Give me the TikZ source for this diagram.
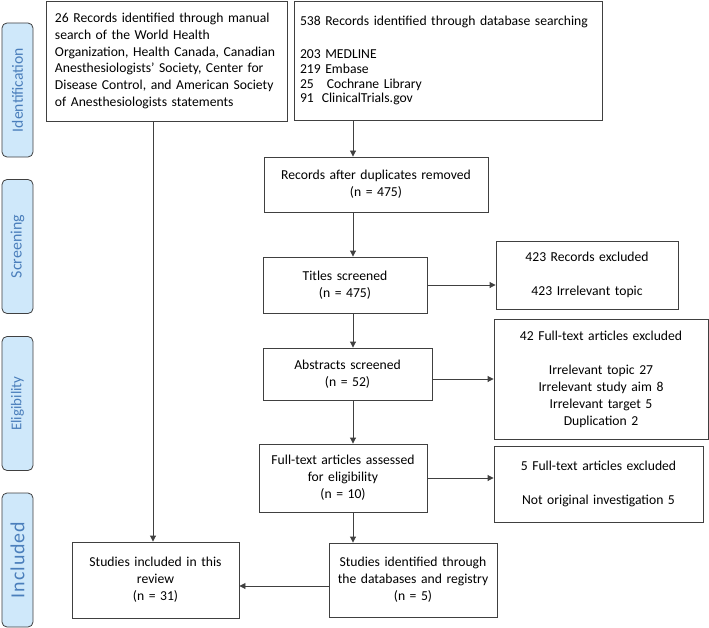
\documentclass[tikz,border=0pt]{standalone}
\usepackage{fontspec}
\setmainfont{Carlito}
\usetikzlibrary{arrows.meta}
\definecolor{stagefill}{HTML}{CFE8FA}
\definecolor{stagetext}{HTML}{4A7EBB}
\definecolor{boxline}{HTML}{404040}
\begin{document}
\begin{tikzpicture}[x=1bp,y=-1bp,
  box/.style={draw=boxline, line width=0.9bp, fill=white, inner sep=4bp, align=center,
    font=\fontsize{13.7}{17}\selectfont},
  stage/.style={draw=boxline, line width=0.8bp, rounded corners=5bp, fill=stagefill,
    text=stagetext, rotate=90, minimum width=134bp, minimum height=31bp, inner sep=0pt},
  link/.style={draw=boxline, line width=0.9bp, -{Triangle[length=6bp,width=6bp]}}]
  \useasboundingbox (0,0) rectangle (709,628);
  % Stages
  \node[stage, font=\fontsize{15.7}{16}\selectfont] (identification) at (17.5,90) {Identification};
  \node[stage, font=\fontsize{16}{16}\selectfont] (screening) at (17.5,246.5) {Screening};
  \node[stage, font=\fontsize{15}{15}\selectfont] (eligibility) at (17.5,403.5) {Eligibility};
  \node[stage, font=\fontsize{20}{20}\selectfont\addfontfeatures{LetterSpace=5}] (included) at (17.5,560) {Included};
  % Identification
  \node[box, align=left, inner xsep=9bp, text width=223bp, minimum height=120bp,
    font=\fontsize{13.7}{16.7}\selectfont] (manual) at (166.5,61)
    {26 Records identified through manual\\ search of the World Health\\
     Organization, Health Canada, Canadian\\ Anesthesiologists’ Society, Center for\\
     Disease Control, and American Society\\ of Anesthesiologists statements};
  \node[box, align=left, inner xsep=6bp, text width=296bp, minimum height=119bp,
    font=\fontsize{13.7}{15}\selectfont] (db) at (448,60.5)
    {538 Records identified through database searching\\[18bp]
     203 MEDLINE\\ 219 Embase\\ 25\hspace{13bp}Cochrane Library\\ 91\hspace{8bp}ClinicalTrials.gov};
  % Screening
  \node[box, text width=216bp, minimum height=55bp] (records) at (376,184.5)
    {Records after duplicates removed\\ (n = 475)};
  \node[box, text width=156bp, minimum height=56bp] (titles) at (345,285)
    {Titles screened\\ (n = 475)};
  \node[box, text width=174bp, minimum height=68bp] (excl1) at (587,275)
    {423 Records excluded\\[17bp] 423 Irrelevant topic};
  % Eligibility
  \node[box, text width=161bp, minimum height=52bp] (abstracts) at (347.5,374)
    {Abstracts screened\\ (n = 52)};
  \node[box, text width=206bp, minimum height=120bp] (excl2) at (601,379)
    {42 Full-text articles excluded\\[17bp] Irrelevant topic 27\\ Irrelevant study aim 8\\
     Irrelevant target 5\\ Duplication 2};
  \node[box, text width=160bp, minimum height=68bp] (fulltext) at (343,478)
    {Full-text articles assessed\\ for eligibility\\ (n = 10)};
  \node[box, text width=201bp, minimum height=76bp] (excl3) at (598.5,484)
    {5 Full-text articles excluded\\[17bp] Not original investigation 5};
  % Included
  \node[box, text width=160bp, minimum height=74bp] (identified) at (413,580)
    {Studies identified through\\ the databases and registry\\ (n = 5)};
  \node[box, text width=159bp, minimum height=76bp] (studies) at (155.5,580)
    {Studies included in this\\ review\\ (n = 31)};
  % Links
  \coordinate (spine) at (353,0);
  \coordinate (drop) at (153,0);
  \draw[link] (db.south -| spine) -- (records.north -| spine);
  \draw[link] (records.south -| spine) -- (titles.north -| spine);
  \draw[link] (titles.south -| spine) -- (abstracts.north -| spine);
  \draw[link] (abstracts.south -| spine) -- (fulltext.north -| spine);
  \draw[link] (fulltext.south -| spine) -- (identified.north -| spine);
  \draw[link] (titles.east) -- (titles.east -| excl1.west);
  \draw[link] (abstracts.east |- excl2.west) -- (excl2.west);
  \draw[link] (fulltext.east) -- (fulltext.east -| excl3.west);
  \draw[link] ([yshift=-6bp]identified.west) -- ([yshift=-6bp]studies.east);
  \draw[link] (manual.south -| drop) -- (studies.north -| drop);
\end{tikzpicture}
\end{document}
